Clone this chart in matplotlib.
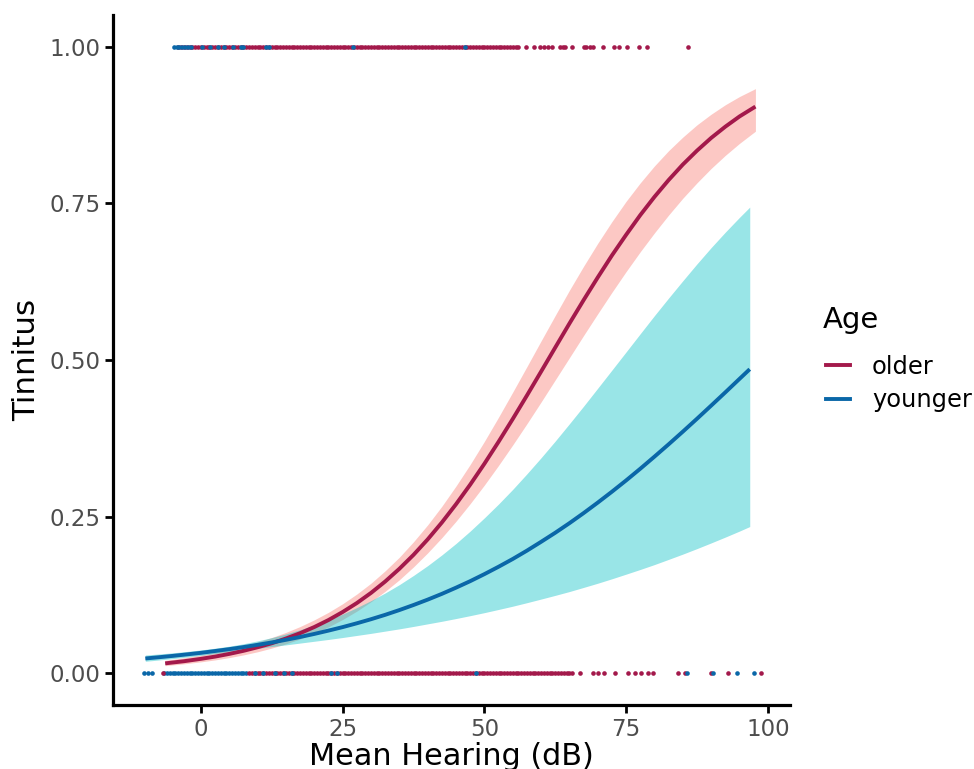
import matplotlib
matplotlib.use("Agg")
import matplotlib.pyplot as plt
from matplotlib.lines import Line2D

# ---- data ----
# fitted curve + ribbon, older group
older_x = [-6.3, -3, 0, 2.5, 5, 7.5, 10, 12.5, 15, 17.5, 20, 22.5, 25, 27.5, 30, 32.5, 35, 37.5, 40, 42.5,
           45, 47.5, 50, 52.5, 55, 57.5, 60, 62.5, 65, 67.5, 70, 72.5, 75, 77.5, 80, 82.5, 85, 87.5, 90,
           92.5, 95, 97.8]
older_fit = [0.0155, 0.0189, 0.0227, 0.0263, 0.0306, 0.0355, 0.0412, 0.0476, 0.0552, 0.0637, 0.0735,
             0.0847, 0.0975, 0.1118, 0.128, 0.1462, 0.1665, 0.1888, 0.2135, 0.2405, 0.2697, 0.3010,
             0.3343, 0.3694, 0.4058, 0.4433, 0.4815, 0.52, 0.5583, 0.5957, 0.632, 0.6671, 0.700, 0.7315,
             0.7606, 0.7875, 0.8122, 0.8344, 0.8547, 0.8727, 0.889, 0.9047]
older_lo = [0.0118, 0.0147, 0.0179, 0.0210, 0.0247, 0.0290, 0.0340, 0.0399, 0.0467, 0.0545, 0.0635,
            0.0738, 0.0856, 0.0989, 0.1139, 0.1306, 0.149, 0.1696, 0.192, 0.2163, 0.2425, 0.2706,
            0.3003, 0.3317, 0.3644, 0.3982, 0.4329, 0.4683, 0.5037, 0.5392, 0.574, 0.6082, 0.6413,
            0.673, 0.7031, 0.7316, 0.7584, 0.783, 0.806, 0.8269, 0.846, 0.8654]
older_hi = [0.0203, 0.0244, 0.0287, 0.0330, 0.0378, 0.0433, 0.0496, 0.0568, 0.0650, 0.0743, 0.0850,
            0.0970, 0.1107, 0.1262, 0.1435, 0.1633, 0.185, 0.2097, 0.2367, 0.2664, 0.2988, 0.3332,
            0.370, 0.4087, 0.4487, 0.4894, 0.5305, 0.5712, 0.6114, 0.6498, 0.6865, 0.7211, 0.7535,
            0.783, 0.810, 0.8344, 0.856, 0.8756, 0.8926, 0.9077, 0.9208, 0.9334]

# fitted curve + ribbon, younger group
younger_x = [-9.8, -7.5, -5, -2.5, 0, 2.5, 5, 7.5, 10, 12.5, 15, 17.5, 20, 22.5, 25, 27.5, 30, 32.5, 35,
             37.5, 40, 42.5, 45, 47.5, 50, 52.5, 55, 57.5, 60, 62.5, 65, 67.5, 70, 72.5, 75, 77.5, 80,
             82.5, 85, 87.5, 90, 92.5, 95, 96.8]
younger_fit = [0.0233, 0.0252, 0.0274, 0.0298, 0.0323, 0.0352, 0.0382, 0.0415, 0.0451, 0.0489, 0.0531,
               0.0576, 0.0625, 0.0678, 0.0734, 0.0795, 0.0860, 0.0930, 0.1006, 0.1087, 0.1173, 0.1265,
               0.1364, 0.1468, 0.158, 0.1698, 0.1822, 0.1955, 0.2096, 0.2241, 0.2394, 0.2555, 0.2723,
               0.2897, 0.3077, 0.3264, 0.3457, 0.3654, 0.3856, 0.4062, 0.4272, 0.4484, 0.4699, 0.4853]
younger_lo = [0.0188, 0.0208, 0.0231, 0.0256, 0.0283, 0.0311, 0.0340, 0.0368, 0.0395, 0.0423, 0.0450,
              0.0479, 0.0508, 0.0537, 0.0568, 0.0601, 0.0634, 0.0670, 0.0706, 0.0745, 0.0786, 0.0827,
              0.0871, 0.0917, 0.0965, 0.1016, 0.1068, 0.1124, 0.1182, 0.1241, 0.1302, 0.1368, 0.1435,
              0.1506, 0.158, 0.1655, 0.1733, 0.1816, 0.190, 0.1988, 0.2079, 0.2172, 0.2268, 0.234]
younger_hi = [0.0288, 0.0304, 0.0323, 0.0345, 0.0369, 0.0397, 0.0429, 0.0468, 0.0514, 0.0566, 0.0625,
              0.0692, 0.0767, 0.0850, 0.0942, 0.1045, 0.1157, 0.1279, 0.1412, 0.1559, 0.1716, 0.1887,
              0.207, 0.2268, 0.2479, 0.2700, 0.2934, 0.3182, 0.3439, 0.3706, 0.3982, 0.4263, 0.4551,
              0.4840, 0.513, 0.5421, 0.571, 0.5991, 0.6266, 0.6536, 0.6796, 0.7043, 0.7279, 0.7442]

# raw observations (tinnitus = 1)
top_older = [-4.0, -3.5, -3.0, -2.5, -2.0, -1.5, -1.0, -0.5, 0.0, 0.5, 1.0, 1.5, 2.0, 2.5, 3.0, 3.5, 4.0,
             4.5, 5.0, 5.5, 6.0, 6.5, 7.0, 7.5, 8.0, 8.5, 9.0, 9.5, 10.0, 10.5, 11.0, 11.5, 12.0, 12.5, 13.0,
             13.5, 14.0, 14.5, 15.0, 15.5, 16.0, 16.5, 17.0, 17.5, 18.0, 18.5, 19.0, 19.5, 20.0, 20.5, 21.0,
             21.5, 22.0, 22.5, 23.0, 23.5, 24.0, 24.5, 25.0, 25.5, 26.0, 26.5, 27.0, 27.5, 28.0, 28.5, 29.0,
             29.5, 30.0, 30.5, 31.0, 31.5, 32.0, 32.5, 33.0, 33.5, 34.0, 34.5, 35.0, 35.5, 36.0, 36.5, 37.0,
             37.5, 38.0, 38.5, 39.0, 39.5, 40.0, 40.5, 41.0, 41.5, 42.0, 42.5, 43.0, 43.5, 44.0, 44.5, 45.0,
             45.5, 46.0, 46.5, 47.0, 47.5, 48.0, 48.5, 49.0, 49.5, 50.0, 50.5, 51.0, 51.5, 52.0, 52.5, 53.0,
             53.5, 54.0, 54.5, 55.0, 55.5, 56.0,
             57.3, 58.7, 59.8, 60.5, 61.2, 61.9, 63.3, 63.8, 64.3, 65.4, 67.5, 68.0, 68.6, 69.2, 71.0,
             72.8, 73.8, 75.2, 77.2, 78.6, 85.9]
top_younger = [-4.8, -4.3, -3.8, -3.3, -2.8, -2.3, -1.8, 0.2, 1.6, 3.0, 4.0, 5.6, 7.0, 7.5, 11.5, 12.1,
               26.9, 46.5]

# raw observations (tinnitus = 0)
bottom_younger = [-10.1, -9.4, -8.7, -6.5, -6.0, -5.5, -5.0, -4.5, -4.0, -3.5, -3.0, -2.5, -2.0, -1.5,
                  -1.0, -0.5, 0.0, 0.5, 1.0, 1.5, 2.0, 2.5, 3.0, 3.5, 4.0, 4.5, 5.0, 5.5, 6.0, 6.5, 7.0,
                  7.5, 8.0]
bottom_older = [-6.7, 8.5, 9.0, 9.5, 10.0, 10.5, 11.0, 11.5, 12.0, 12.5, 13.0, 13.5, 14.0, 14.5, 15.0,
                15.5, 16.0, 16.5, 17.0, 17.5, 18.0, 18.5, 19.0, 19.5, 20.0, 20.5, 21.0, 21.5, 22.0, 22.5,
                23.0, 23.5, 24.0, 24.5, 25.0, 25.5, 26.0, 26.5, 27.0, 27.5, 28.0, 28.5, 29.0, 29.5, 30.0,
                30.5, 31.0, 31.5, 32.0, 32.5, 33.0, 33.5, 34.0, 34.5, 35.0, 35.5, 36.0, 36.5, 37.0, 37.5,
                38.0, 38.5, 39.0, 39.5, 40.0, 40.5, 41.0, 41.5, 42.0, 42.5, 43.0, 43.5, 44.0, 44.5, 45.0,
                45.5, 46.0, 46.5, 47.0, 47.5, 48.0, 48.5, 49.0, 49.5, 50.0, 50.5, 51.0, 51.5, 52.0, 52.5,
                53.0, 53.5, 54.0, 54.5, 55.0, 55.5, 56.0, 56.5, 57.0, 57.5, 58.0, 58.5, 59.0, 59.5, 60.0,
                60.5, 61.0, 61.5, 62.0, 62.5, 63.0, 63.5, 64.0, 64.5, 65.0, 65.5,
                66.9, 69.2, 70.0, 71.1, 73.0, 75.3, 76.5, 77.6, 78.8, 79.7, 84.1, 85.3, 89.9, 92.9, 98.7]
bottom_younger_specks = [9.5, 11.0, 13.0, 14.6, 16.0, 22.9, 24.0, 48.5, 85.8, 90.4, 94.5, 97.5]

x_ticks = [0, 25, 50, 75, 100]
y_ticks = [0.00, 0.25, 0.50, 0.75, 1.00]
y_ticklabels = ["0.00", "0.25", "0.50", "0.75", "1.00"]
groups = ["older", "younger"]
legend_title = "Age"

# ---- style ----
RED = "#A3194B"
BLUE = "#0A67A8"
PINK = "#F8766D"
CYAN = "#00BFC4"

plt.rcParams["font.family"] = ["DejaVu Sans"]

fig = plt.figure(figsize=(9.74, 7.69), dpi=100)
ax = fig.add_axes([113 / 974, 64 / 769, 677 / 974, 690 / 769])

dot_s = 11
ax.scatter(bottom_younger, [0] * len(bottom_younger), s=dot_s, color=BLUE, linewidths=0, zorder=1)
ax.scatter(bottom_older, [0] * len(bottom_older), s=dot_s, color=RED, linewidths=0, zorder=1)
ax.scatter(bottom_younger_specks, [0] * len(bottom_younger_specks), s=dot_s, color=BLUE, linewidths=0, zorder=1)
ax.scatter(top_older, [1] * len(top_older), s=dot_s, color=RED, linewidths=0, zorder=1)
ax.scatter(top_younger, [1] * len(top_younger), s=dot_s, color=BLUE, linewidths=0, zorder=1)

ax.fill_between(older_x, older_lo, older_hi, color=PINK, alpha=0.4, linewidth=0, zorder=2)
ax.fill_between(younger_x, younger_lo, younger_hi, color=CYAN, alpha=0.4, linewidth=0, zorder=2)
ax.plot(older_x, older_fit, color=RED, linewidth=2.8, solid_capstyle="butt", zorder=3)
ax.plot(younger_x, younger_fit, color=BLUE, linewidth=2.8, solid_capstyle="butt", zorder=3)

ax.set_xlim(-15.5, 103.9)
ax.set_ylim(-0.051, 1.051)
ax.set_xticks(x_ticks)
ax.set_yticks(y_ticks)
ax.set_yticklabels(y_ticklabels)

for side in ["top", "right"]:
    ax.spines[side].set_visible(False)
for side in ["left", "bottom"]:
    ax.spines[side].set_linewidth(2.3)
    ax.spines[side].set_color("black")
    ax.spines[side].set_capstyle("projecting")

ax.tick_params(axis="both", length=5.5, width=2.0, color="black", labelsize=16.5,
               labelcolor="#4D4D4D", pad=3.5)

ax.set_xlabel("Mean Hearing (dB)", fontsize=21.8, labelpad=1)
ax.set_ylabel("Tinnitus", fontsize=22.3, labelpad=6)

fig.text(823 / 974, 1 - 328 / 769, legend_title, fontsize=21, ha="left", va="baseline")
handles = [Line2D([], [], color=RED, linewidth=2.8),
           Line2D([], [], color=BLUE, linewidth=2.8)]
leg = fig.legend(handles, groups, loc="center left", bbox_to_anchor=(826 / 974, 1 - 383.5 / 769),
                 frameon=False, fontsize=17.4, handlelength=1.0, handletextpad=0.9,
                 labelspacing=0.4, borderpad=0, borderaxespad=0)

fig.savefig("out.png", dpi=100)
